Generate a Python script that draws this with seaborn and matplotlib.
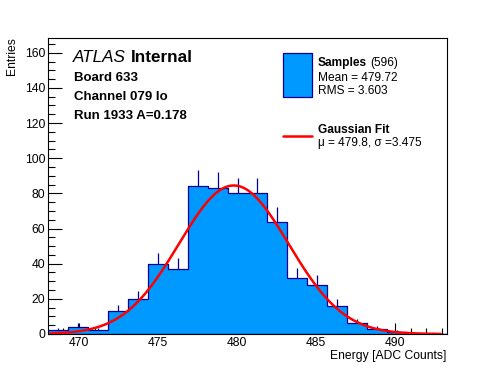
import numpy as np
import pandas as pd
import matplotlib
matplotlib.use("Agg")
import matplotlib.pyplot as plt
import seaborn as sns

# ---- data ----
bin_counts = [2, 4, 2, 13, 20, 40, 37, 84, 83, 80, 80, 64, 32, 28, 16, 6, 3, 1, 0, 0]
x_range = (468.04, 493.3)
fit_mu = 479.8
fit_sigma = 3.475
fit_amp = 84.5
x_ticks = [470, 475, 480, 485, 490]
y_ticks = [0, 20, 40, 60, 80, 100, 120, 140, 160]
header_lines = ["Board 633", "Channel 079 lo", "Run 1933 A=0.178"]
n_samples = 596
mean_val = 479.72
rms_val = 3.603

sns.set_theme(style="white")
plt.rcParams['font.family'] = ['Liberation Sans', 'DejaVu Sans']
for k in ["text.color", "axes.labelcolor", "xtick.color", "ytick.color", "axes.edgecolor"]:
    plt.rcParams[k] = "black"

W, H = 496, 372
fig = plt.figure(figsize=(W / 100, H / 100), dpi=100)
fig.patch.set_facecolor("white")
L, R, T, B = 48, 447, 38, 334
ax = fig.add_axes([L / W, 1 - B / H, (R - L) / W, (B - T) / H])
ax.set_facecolor("white")

edges = np.linspace(x_range[0], x_range[1], len(bin_counts) + 1)
centers = 0.5 * (edges[:-1] + edges[1:])
counts = np.array(bin_counts, dtype=float)
df = pd.DataFrame({"energy": centers, "n": counts})

FILL = "#0099ff"
EDGE = "#000099"

# error bars (lower half hidden under the fill, as in ROOT)
mask = counts > 0
ax.errorbar(centers[mask], counts[mask], yerr=np.sqrt(counts[mask]), fmt="none",
            ecolor=EDGE, elinewidth=0.9, capsize=0, zorder=0.5)

sns.histplot(data=df, x="energy", weights="n", bins=edges.tolist(), element="step",
             fill=True, color=FILL, alpha=1.0, edgecolor=EDGE, linewidth=0.9,
             ax=ax, zorder=1, legend=False)

# Gaussian fit curve
xf = np.linspace(468.2, 492.9, 400)
yf = fit_amp * np.exp(-0.5 * ((xf - fit_mu) / fit_sigma) ** 2)
sns.lineplot(x=xf, y=yf, color="#ff0000", linewidth=1.8, ax=ax, zorder=3)

ax.set_xlim(*x_range)
ax.set_ylim(0, 168.4)
ax.set_xlabel("")
ax.set_ylabel("")
ax.set_xticks(x_ticks)
ax.set_xticks(np.arange(469, 494, 1), minor=True)
ax.set_yticks(y_ticks)
ax.set_yticks(np.arange(0, 170, 5), minor=True)
ax.tick_params(axis="x", which="major", direction="in", length=8, width=0.8,
               labelsize=8.7, pad=2.5, colors="black", bottom=True, top=False)
ax.tick_params(axis="x", which="minor", direction="in", length=4, width=0.8,
               bottom=True, top=False)
ax.tick_params(axis="y", which="major", direction="in", length=10, width=0.8,
               labelsize=8.7, pad=2, colors="black", left=True, right=False)
ax.tick_params(axis="y", which="minor", direction="in", length=5, width=0.8,
               left=True, right=False)
for s in ax.spines.values():
    s.set_visible(True)
    s.set_color("black")
    s.set_linewidth(0.8)

def fx(px):
    return px / W

def fy(py):
    return 1 - py / H

# axis titles
fig.text(fx(12), fy(37), "Entries", rotation=90, ha="center", va="top", fontsize=8.7)
fig.text(fx(446.5), fy(355.5), "Energy [ADC Counts]", ha="right", va="center", fontsize=8.7)

fig.canvas.draw()
renderer = fig.canvas.get_renderer()

def text_after(prev, s, gap_px, **kw):
    bb = prev.get_window_extent(renderer=renderer)
    x0 = (bb.x1 + gap_px) / W
    y0 = prev.get_position()[1]
    t = fig.text(x0, y0, s, va="baseline", **kw)
    return t

# ATLAS label
t1 = fig.text(fx(73), fy(62.5), "ATLAS", style="italic", fontsize=12.3, va="baseline")
text_after(t1, "Internal", 4.5, weight="bold", fontsize=12.3)
for i, line in enumerate(header_lines):
    fig.text(fx(74), fy(81 + 19 * i), line, weight="bold", fontsize=9.5, va="baseline")

# legend box
lg = fig.add_axes([0, 0, 1, 1], facecolor="none")
lg.set_xlim(0, W)
lg.set_ylim(H, 0)
lg.axis("off")
lg.add_patch(plt.Rectangle((283.3, 53.3), 28.4, 43.4, facecolor=FILL, edgecolor=EDGE, linewidth=0.9))
lg.plot([283.3, 311.7], [136, 136], color="#ff0000", linewidth=1.8)
ts = fig.text(fx(317.7), fy(65.7), "Samples", weight="bold", fontsize=8.6, va="baseline")
text_after(ts, f"({n_samples})", 3.0, fontsize=8.6)
fig.text(fx(317.7), fy(80.7), f"Mean = {mean_val:.2f}", fontsize=8.6, va="baseline")
fig.text(fx(317.7), fy(94), f"RMS = {rms_val:.3f}", fontsize=8.6, va="baseline")
fig.text(fx(317.7), fy(132.7), "Gaussian Fit", weight="bold", fontsize=8.6, va="baseline")
fig.text(fx(317.7), fy(146), f"\u03bc = {fit_mu}, \u03c3 ={fit_sigma}", fontsize=8.6, va="baseline")

fig.savefig("out.png", dpi=100)
